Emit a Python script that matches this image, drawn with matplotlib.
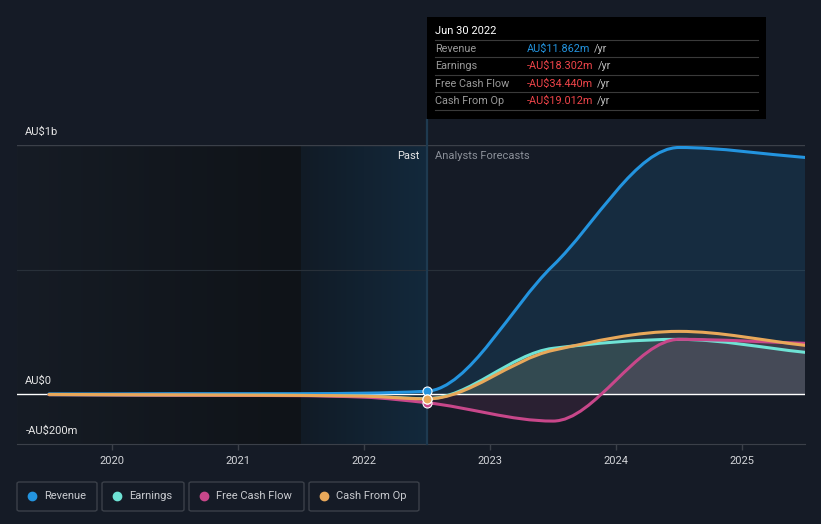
import numpy as np
import matplotlib.pyplot as plt
from matplotlib.path import Path
from matplotlib.patches import PathPatch, FancyBboxPatch, Rectangle

plt.rcParams['font.family'] = ['Roboto', 'DejaVu Sans']

# data (AU$ billions); fiscal years end in June
years = [2019.5, 2020.0, 2020.5, 2021.0, 2021.5, 2022.0, 2022.5, 2023.5, 2024.5, 2025.5]
revenue = [0.001, 0.001, 0.002, 0.002, 0.002, 0.004, 0.0119, 0.516, 0.990, 0.950]
earnings = [-0.002, -0.003, -0.004, -0.004, -0.005, -0.008, -0.0183, 0.184, 0.220, 0.168]
fcf = [-0.002, -0.003, -0.004, -0.005, -0.006, -0.012, -0.0344, -0.108, 0.220, 0.204]
cfo = [-0.001, -0.002, -0.003, -0.004, -0.005, -0.008, -0.019, 0.176, 0.252, 0.196]

series = [("Revenue", revenue, "#2394df", 0.14),
          ("Earnings", earnings, "#6fe3d5", 0.11),
          ("Free Cash Flow", fcf, "#c8478a", 0.12),
          ("Cash From Op", cfo, "#e8a85a", 0.10)]

tip_date = "Jun 30 2022"
tip_values = ["AU$11.862m", "-AU$18.302m", "-AU$34.440m", "-AU$19.012m"]
now = 2022.5

BG = "#151b26"


def tangents(x, y):
    # monotone cubic (Fritsch-Carlson) slopes
    x = np.asarray(x, float)
    y = np.asarray(y, float)
    h = np.diff(x)
    d = np.diff(y) / h
    m = np.zeros_like(y)
    m[0], m[-1] = d[0], d[-1]
    for i in range(1, len(y) - 1):
        if d[i - 1] * d[i] <= 0:
            m[i] = 0
        else:
            w1 = 2 * h[i] + h[i - 1]
            w2 = h[i] + 2 * h[i - 1]
            m[i] = (w1 + w2) / (w1 / d[i - 1] + w2 / d[i])
    return x, y, m


def curve_verts(x, y, start=0):
    x, y, m = tangents(x, y)
    verts = [(x[start], y[start])]
    codes = [Path.MOVETO]
    for i in range(start, len(x) - 1):
        h = x[i + 1] - x[i]
        verts += [(x[i] + h / 3, y[i] + m[i] * h / 3),
                  (x[i + 1] - h / 3, y[i + 1] - m[i + 1] * h / 3),
                  (x[i + 1], y[i + 1])]
        codes += [Path.CURVE4] * 3
    return verts, codes


fig = plt.figure(figsize=(8.21, 5.24), dpi=100)
fig.patch.set_facecolor(BG)
ax = fig.add_axes([17 / 821, 80 / 524, 788 / 821, 299 / 524])
ax.set_facecolor(BG)

x0, x1 = 2019.246, 2025.5
y0, y1 = -0.2, 1.0


def hgrad(c1, c2, n=256):
    a = np.array(plt.matplotlib.colors.to_rgb(c1))
    b = np.array(plt.matplotlib.colors.to_rgb(c2))
    t = np.linspace(0, 1, n)[:, None]
    return (a + (b - a) * t)[None, :, :]


ax.imshow(hgrad("#161c25", "#0f1318"), extent=[x0, 2021.5, y0, y1], aspect="auto",
          zorder=0, interpolation="bilinear")
ax.imshow(hgrad("#111b26", "#13293c"), extent=[2021.5, now, y0, y1], aspect="auto",
          zorder=0, interpolation="bilinear")
ax.set_xlim(x0, x1)
ax.set_ylim(y0, y1)

# grid
ax.axhline(1.0, color="#3b4049", lw=1, zorder=1)
ax.axhline(0.5, color="#283039", lw=0.8, zorder=1)
ax.axhline(0.0, color="#ffffff", lw=1, zorder=3)

# fills (forecast only) and lines
start = years.index(now)
for name, vals, col, alpha in series:
    v, c = curve_verts(years, vals, start)
    v = v + [(years[-1], 0.0), (now, 0.0), v[0]]
    c = c + [Path.LINETO, Path.LINETO, Path.CLOSEPOLY]
    ax.add_patch(PathPatch(Path(v, c), facecolor=col, edgecolor="none", alpha=alpha, zorder=2))

for name, vals, col, alpha in series:
    v, c = curve_verts(years, vals)
    ax.add_patch(PathPatch(Path(v, c), facecolor="none", edgecolor=col, lw=2.2,
                           capstyle="round", zorder=4))

for name, vals, col, alpha in [series[0], series[2], series[1], series[3]]:
    ax.plot([now], [vals[start]], "o", ms=6.5, color=col, mec="white", mew=0.8, zorder=6)

# past / forecast marker line
ax.plot([now, now], [y0, 1.1], color="#1e3a50", lw=1.6, zorder=5, clip_on=False)
ax.text(now - 0.06, 0.955, "Past", color="#e6e6e6", fontsize=8, ha="right", va="center", zorder=6)
ax.text(now + 0.06, 0.955, "Analysts Forecasts", color="#8b9099", fontsize=8, ha="left", va="center", zorder=6)

# axes styling
for s in ["top", "right", "left"]:
    ax.spines[s].set_visible(False)
ax.spines["bottom"].set_color("#3b4049")
ax.set_yticks([])
ax.set_xticks([2020, 2021, 2022, 2023, 2024, 2025])
ax.set_xticklabels(["2020", "2021", "2022", "2023", "2024", "2025"])
ax.tick_params(axis="x", colors="#3b4049", length=4, width=1, labelcolor="#d2d4d8",
               labelsize=8, pad=5)

ylabs = [(1.0, "AU$1b"), (0.0, "AU$0"), (-0.2, "-AU$200m")]
for yv, lab in ylabs:
    ax.annotate(lab, xy=(0, yv), xycoords=("axes fraction", "data"),
                xytext=(6, 6), textcoords="offset points", color="#e6e6e6",
                fontsize=8, ha="left", va="bottom", annotation_clip=False)

# tooltip
tx, ty, tw, th = 427, 17, 339, 102
fig.patches.append(Rectangle((tx / 821, 1 - (ty + th) / 524), tw / 821, th / 524,
                             transform=fig.transFigure, facecolor="#000000",
                             edgecolor="none", zorder=10))
fig.text(435 / 821, 1 - 31 / 524, tip_date, color="#ffffff", fontsize=8,
         va="center", ha="left", zorder=11)
row_y = [49, 66, 84, 101]
for i, (name, vals, col, alpha) in enumerate(series):
    yy = 1 - row_y[i] / 524
    line_y = 1 - (row_y[i] - 9) / 524
    fig.add_artist(plt.Line2D([435 / 821, 758 / 821], [line_y, line_y], color="#3a3a3a",
                              lw=0.8, transform=fig.transFigure, zorder=11))
    fig.text(435 / 821, yy, name, color="#9a9a9a", fontsize=7.8, va="center", zorder=11)
    vcol = "#2394df" if not tip_values[i].startswith("-") else "#f0454a"
    t = fig.text(527 / 821, yy, tip_values[i], color=vcol, fontsize=7.8, va="center", zorder=11)
    fig.canvas.draw()
    bb = t.get_window_extent()
    fig.text((bb.x1 + 4) / 821, yy, "/yr", color="#bdbdbd", fontsize=7.8, va="center", zorder=11)
ly = 1 - 110 / 524
fig.add_artist(plt.Line2D([435 / 821, 758 / 821], [ly, ly], color="#3a3a3a",
                          lw=0.8, transform=fig.transFigure, zorder=11))

# legend
boxes = [(17, 80), (102, 82), (189, 115), (309, 110)]
for (bx, bw), (name, vals, col, alpha) in zip(boxes, series):
    fig.patches.append(FancyBboxPatch((bx / 821, 1 - 511 / 524), bw / 821, 29 / 524,
                                      boxstyle="round,pad=0,rounding_size=0.003",
                                      transform=fig.transFigure, facecolor="none",
                                      edgecolor="#3b4049", lw=1))
    fig.add_artist(plt.Line2D([(bx + 15) / 821], [1 - 496 / 524], marker="o", ms=6,
                              color=col, transform=fig.transFigure))
    fig.text((bx + 27) / 821, 1 - 496 / 524, name, color="#c9cbd0", fontsize=8, va="center")

fig.savefig("out.png", dpi=100, facecolor=BG)
